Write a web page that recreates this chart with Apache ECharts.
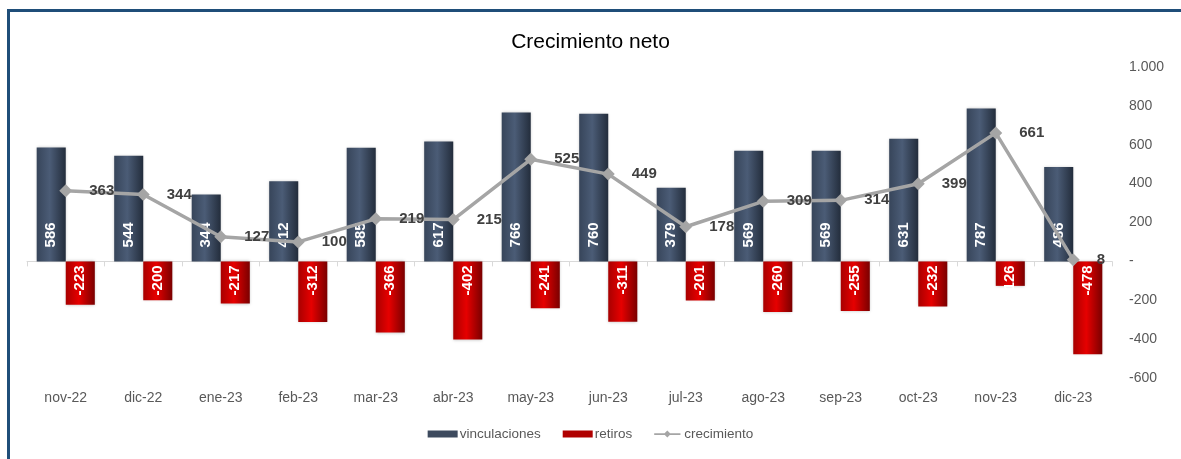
<!DOCTYPE html>
<html>
<head>
<meta charset="utf-8">
<title>Crecimiento neto</title>
<script src="https://cdn.jsdelivr.net/npm/echarts@6/dist/echarts.min.js"></script>
<style>
  html, body { margin: 0; padding: 0; background: #fff; }
  #chartWrap { width: 1181px; height: 459px; }
</style>
</head>
<body>
<div id="chartWrap"></div>
<script>
// datos
var meses = ['nov-22', 'dic-22', 'ene-23', 'feb-23', 'mar-23', 'abr-23', 'may-23',
  'jun-23', 'jul-23', 'ago-23', 'sep-23', 'oct-23', 'nov-23', 'dic-23'];
var vinculaciones = [586, 544, 344, 412, 585, 617, 766, 760, 379, 569, 569, 631, 787, 486];
var retiros = [-223, -200, -217, -312, -366, -402, -241, -311, -201, -260, -255, -232, -126, -478];
var crecimiento = [363, 344, 127, 100, 219, 215, 525, 449, 178, 309, 314, 399, 661, 8];
var ejeMin = -600;
var ejeMax = 1000;
var ejeIntervalo = 200;

var FONT = '"Liberation Sans", Arial, sans-serif';

// degradado horizontal para simular las barras 3D de excel
function degradado(borde, centro, borde2) {
  return new echarts.graphic.LinearGradient(0, 0, 1, 0, [
    { offset: 0, color: borde },
    { offset: 0.45, color: centro },
    { offset: 1, color: borde2 }
  ]);
}

// 1000 -> 1.000, 0 -> -
function formatoEje(v) {
  if (v === 0) {
    return '-';
  }
  var s = String(Math.abs(v)).replace(/\B(?=(\d{3})+(?!\d))/g, '.');
  return (v < 0 ? '-' : '') + s;
}

var myChart = echarts.init(document.getElementById('chartWrap'));

var option = {
  backgroundColor: '#fff',
  animation: false,
  textStyle: { fontFamily: FONT },
  title: {
    text: 'Crecimiento neto',
    left: 'center',
    top: 27,
    textStyle: { fontFamily: FONT, fontSize: 21, fontWeight: 'normal', color: '#000' }
  },
  // marco azul del grafico
  graphic: [{
    type: 'rect',
    shape: { x: 8.5, y: 10.5, width: 1300, height: 600 },
    style: { fill: 'none', stroke: '#1F4E79', lineWidth: 3 },
    silent: true
  }],
  legend: {
    bottom: 13,
    left: 'center',
    itemWidth: 30,
    itemHeight: 7,
    itemGap: 22,
    textStyle: { fontFamily: FONT, fontSize: 13.5, color: '#595959', padding: [0, 0, 0, -3] },
    data: [
      { name: 'vinculaciones', icon: 'rect', itemStyle: { color: '#3d4a5e' } },
      { name: 'retiros', icon: 'rect', itemStyle: { color: '#b00000' } },
      { name: 'crecimiento', icon: 'path://M0,3 L30,3 L30,5 L0,5 Z M11,4 L15,0 L19,4 L15,8 Z', itemStyle: { color: '#A5A5A5' } }
    ]
  },
  grid: { left: 27, right: 69, top: 67, bottom: 81 },
  xAxis: [{
    type: 'category',
    data: meses,
    axisLine: { onZero: true, lineStyle: { color: '#D9D9D9', width: 1 } },
    axisTick: { show: true, length: 5, lineStyle: { color: '#D9D9D9' } },
    axisLabel: { show: false }
  }, {
    type: 'category',
    data: meses,
    position: 'bottom',
    axisLine: { show: false, onZero: false },
    axisTick: { show: false },
    axisLabel: { margin: 13, fontFamily: FONT, fontSize: 14, color: '#595959' }
  }],
  yAxis: {
    type: 'value',
    position: 'right',
    min: ejeMin,
    max: ejeMax,
    interval: ejeIntervalo,
    splitLine: { show: false },
    axisLine: { show: false },
    axisTick: { show: false },
    axisLabel: { margin: 17, fontFamily: FONT, fontSize: 14, color: '#595959', formatter: formatoEje }
  },
  series: [{
    name: 'vinculaciones',
    type: 'bar',
    data: vinculaciones,
    barGap: '0%',
    barCategoryGap: '25%',
    itemStyle: {
      color: degradado('#37455a', '#4b5c76', '#232d3c'),
      shadowColor: 'rgba(0,0,0,0.25)',
      shadowBlur: 3
    },
    label: {
      show: true,
      position: 'insideBottom',
      distance: 14,
      rotate: 90,
      align: 'left',
      verticalAlign: 'middle',
      fontFamily: FONT,
      fontSize: 15,
      fontWeight: 'bold',
      color: '#fff'
    },
    z: 2
  }, {
    name: 'retiros',
    type: 'bar',
    data: retiros,
    itemStyle: {
      color: degradado('#a80000', '#e60000', '#7a0000'),
      shadowColor: 'rgba(0,0,0,0.25)',
      shadowBlur: 3
    },
    label: {
      show: true,
      position: 'insideTop',
      distance: 4,
      rotate: 90,
      align: 'right',
      verticalAlign: 'middle',
      fontFamily: FONT,
      fontSize: 15,
      fontWeight: 'bold',
      color: '#fff'
    },
    z: 2
  }, {
    name: 'crecimiento',
    type: 'line',
    data: crecimiento,
    symbol: 'diamond',
    symbolSize: 13,
    lineStyle: { color: '#A5A5A5', width: 3.5 },
    itemStyle: { color: '#A5A5A5' },
    label: {
      show: true,
      position: 'right',
      distance: 17,
      fontFamily: FONT,
      fontSize: 15,
      fontWeight: 'bold',
      color: '#404040'
    },
    z: 5
  }]
};

myChart.setOption(option);
</script>
</body>
</html>
